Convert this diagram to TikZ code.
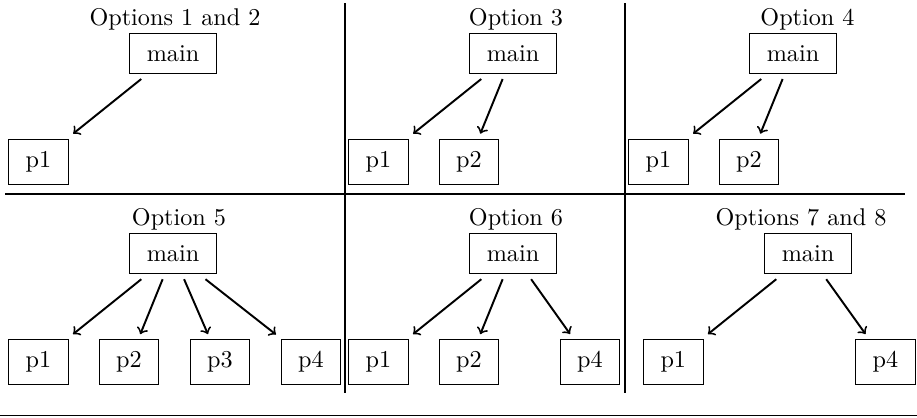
\documentclass[tikz,border=0pt]{standalone}
\begin{document}
\begin{tikzpicture}[x=0.4132pt,y=-0.4132pt,
  box/.style={draw,line width=0.4pt,inner xsep=7pt,inner ysep=5pt,outer sep=2.2pt},
  link/.style={->,line width=0.8pt},
  rule/.style={line width=0.8pt},
  thinrule/.style={line width=0.5pt},
  title/.style={anchor=base,inner sep=0pt}]
\useasboundingbox (0,0) rectangle (917,417);

% grid of the six panels
\coordinate (v1t) at (345,3);   \coordinate (v1b) at (345,393);
\coordinate (v2t) at (625,3);   \coordinate (v2b) at (625,393);
\coordinate (hl)  at (5,194);   \coordinate (hr)  at (905,194);
\coordinate (bl)  at (0,415.8); \coordinate (br)  at (917,415.8);
\draw[rule] (v1t) -- (v1b);
\draw[rule] (v2t) -- (v2b);
\draw[rule] (hl) -- (hr);
\draw[thinrule] (bl) -- (br);

% Options 1 and 2
\node[title] (t1) at (175,25) {Options 1 and 2};
\node[box] (m1) at (173,53.5) {main};
\node[box] (a1) at (38.5,161.5) {p1};
\draw[link] (m1) -- (a1);

% Option 3
\node[title] (t2) at (516,25) {Option 3};
\node[box] (m2) at (513,53.5) {main};
\node[box] (b1) at (378.5,161.5) {p1};
\node[box] (b2) at (469,161.5) {p2};
\draw[link] (m2) -- (b1);
\draw[link] (m2) -- (b2);

% Option 4
\node[title] (t3) at (807.5,25) {Option 4};
\node[box] (m3) at (793,53.5) {main};
\node[box] (c1) at (658.5,161.5) {p1};
\node[box] (c2) at (749,161.5) {p2};
\draw[link] (m3) -- (c1);
\draw[link] (m3) -- (c2);

% Option 5
\node[title] (t4) at (179,225) {Option 5};
\node[box] (m4) at (173,253.7) {main};
\node[box] (d1) at (38.5,362) {p1};
\node[box] (d2) at (129,362) {p2};
\node[box] (d3) at (220,362) {p3};
\node[box] (d4) at (311,362) {p4};
\draw[link] (m4) -- (d1);
\draw[link] (m4) -- (d2);
\draw[link] (m4) -- (d3);
\draw[link] (m4) -- (d4);

% Option 6
\node[title] (t5) at (516,225) {Option 6};
\node[box] (m5) at (513,253.7) {main};
\node[box] (e1) at (378.5,362) {p1};
\node[box] (e2) at (469,362) {p2};
\node[box] (e4) at (590,362) {p4};
\draw[link] (m5) -- (e1);
\draw[link] (m5) -- (e2);
\draw[link] (m5) -- (e4);

% Options 7 and 8
\node[title] (t6) at (801,225) {Options 7 and 8};
\node[box] (m6) at (808,253.7) {main};
\node[box] (f1) at (673.3,362) {p1};
\node[box] (f4) at (885.5,362) {p4};
\draw[link] (m6) -- (f1);
\draw[link] (m6) -- (f4);
\end{tikzpicture}
\end{document}
